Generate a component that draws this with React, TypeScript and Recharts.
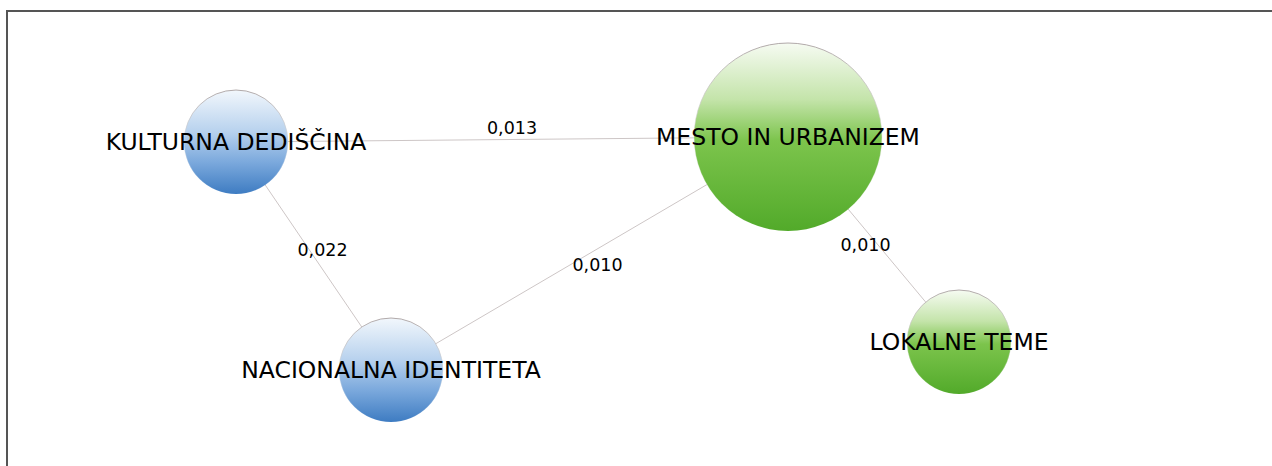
import { ScatterChart, Scatter, XAxis, YAxis, ZAxis } from "recharts";

// network layout (node positions on the canvas layout grid) and node weights
const nodeNames = ["KULTURNA DEDIŠČINA", "MESTO IN URBANIZEM", "NACIONALNA IDENTITETA", "LOKALNE TEME"];
const nodeX = [236, 788, 391, 959];
const nodeY = [142, 137, 370, 342];
const nodeWeight = [1.0, 3.27, 1.0, 1.0];
const nodeGroup = ["blue", "green", "blue", "green"];

// edges: [from, to] and their strength
const edgeFrom = [0, 0, 2, 1];
const edgeTo = [1, 2, 1, 3];
const edgeValues = ["0,013", "0,022", "0,010", "0,010"];

const W = 1272;
const H = 466;

// small nudges so the edge labels sit where they do in the original
const labelNudge = [
  [0, -12],
  [9, -6],
  [8, 11],
  [-8, 5],
];

const nodes = nodeNames.map((name, i) => ({
  name,
  x: nodeX[i],
  y: nodeY[i],
  weight: nodeWeight[i],
  group: nodeGroup[i],
}));

const edges = edgeFrom.map((f, i) => [
  { x: nodeX[f], y: nodeY[f] },
  { x: nodeX[edgeTo[i]], y: nodeY[edgeTo[i]] },
]);

const edgeLabels = edgeFrom.map((f, i) => ({
  x: (nodeX[f] + nodeX[edgeTo[i]]) / 2,
  y: (nodeY[f] + nodeY[edgeTo[i]]) / 2,
  label: edgeValues[i],
  idx: i,
}));

const FONT = "'DejaVu Sans', Verdana, sans-serif";

function NodeShape(props: any) {
  const { cx, cy, width, payload, index } = props;
  const r = width / 2;
  const id = `grad-${index}`;
  const green = payload.group === "green";
  return (
    <g>
      <defs>
        <linearGradient id={id} x1="0" y1="0" x2="0" y2="1">
          {green ? (
            <>
              <stop offset="0%" stopColor="#f6fbf2" />
              <stop offset="30%" stopColor="#c4e4aa" />
              <stop offset="52%" stopColor="#7cc44c" />
              <stop offset="100%" stopColor="#52aa2a" />
            </>
          ) : (
            <>
              <stop offset="0%" stopColor="#f2f7fc" />
              <stop offset="40%" stopColor="#b8d2ee" />
              <stop offset="70%" stopColor="#7aa8dc" />
              <stop offset="100%" stopColor="#3e7cc2" />
            </>
          )}
        </linearGradient>
        <linearGradient id={`${id}-s`} x1="0" y1="0" x2="0" y2="1">
          <stop offset="0%" stopColor="#b0a8a8" />
          <stop offset="50%" stopColor="#d8d8d8" stopOpacity={0.4} />
          <stop offset="100%" stopColor="#ffffff" stopOpacity={0} />
        </linearGradient>
      </defs>
      <circle cx={cx} cy={cy} r={r} fill={`url(#${id})`} stroke={`url(#${id}-s)`} strokeWidth={1} />
      <text
        x={cx}
        y={cy}
        textAnchor="middle"
        dominantBaseline="central"
        fontFamily={FONT}
        fontSize={23.5}
        fill="#000"
      >
        {payload.name}
      </text>
    </g>
  );
}

function EdgeLabel(props: any) {
  const { cx, cy, payload } = props;
  const [dx, dy] = labelNudge[payload.idx];
  return (
    <text
      x={cx + dx}
      y={cy + dy}
      textAnchor="middle"
      dominantBaseline="central"
      fontFamily={FONT}
      fontSize={17.5}
      fill="#000"
    >
      {payload.label}
    </text>
  );
}

export default function App() {
  return (
    <div style={{ position: "fixed", left: 0, top: 0, width: W, height: H, background: "#fff" }}>
      <div
        style={{
          position: "absolute",
          left: 6,
          top: 10,
          right: 0,
          bottom: 0,
          borderTop: "2px solid #555",
          borderLeft: "2px solid #555",
        }}
      />
      <div style={{ position: "absolute", left: 0, top: 0 }}>
        <ScatterChart width={W} height={H} margin={{ top: 0, right: 0, bottom: 0, left: 0 }}>
          <XAxis type="number" dataKey="x" domain={[0, W]} hide />
          <YAxis type="number" dataKey="y" domain={[0, H]} reversed hide />
          <ZAxis type="number" dataKey="weight" domain={[0, 3.3]} range={[0, 28000]} />
          {edges.map((e, i) => (
            <Scatter
              key={`edge-${i}`}
              data={e}
              line={{ stroke: "#cdc6c6", strokeWidth: 1 }}
              shape={() => <g />}
              isAnimationActive={false}
            />
          ))}
          <Scatter data={nodes} shape={NodeShape} isAnimationActive={false} />
          <Scatter data={edgeLabels} shape={EdgeLabel} isAnimationActive={false} />
        </ScatterChart>
      </div>
    </div>
  );
}
